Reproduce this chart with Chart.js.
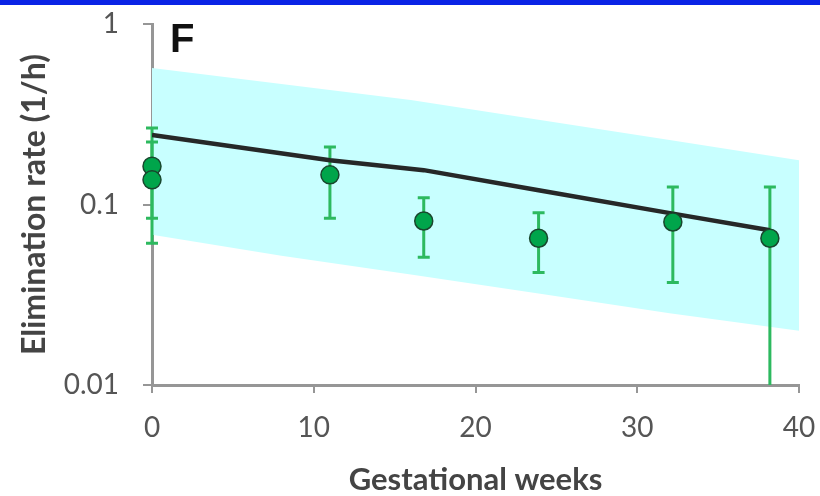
<!DOCTYPE html>
<html>
<head>
<meta charset="utf-8">
<script src="https://cdn.jsdelivr.net/npm/chart.js@4.4.1/dist/chart.umd.min.js"></script>
<style>
  html, body { margin: 0; padding: 0; background: #fff; }
  #wrap { position: relative; width: 820px; height: 496px; }
  #topbar { position: absolute; left: 0; top: 0; width: 820px; height: 5px; background: #0a23e6; }
</style>
</head>
<body>
<div id="wrap">
  <canvas id="elimChart" width="820" height="496"></canvas>
  <div id="topbar"></div>
</div>
<script>
// Observed elimination rate (1/h) with error bars
const obsWeeks = [0, 0, 11, 16.8, 23.9, 32.2, 38.2];
const obsRate = [0.163, 0.137, 0.146, 0.081, 0.065, 0.080, 0.065];
const obsLow = [0.084, 0.061, 0.084, 0.051, 0.042, 0.037, 0.01];
const obsHigh = [0.265, 0.222, 0.208, 0.109, 0.090, 0.125, 0.125];

// Model prediction (black line)
const modelWeeks = [0, 11, 16.8, 23.9, 32.2, 38.2];
const modelRate = [0.243, 0.176, 0.155, 0.120, 0.089, 0.072];

// Prediction interval (cyan band)
const bandWeeks = [0, 8, 16, 24, 32, 40];
const bandUpper = [0.57, 0.465, 0.379, 0.294, 0.228, 0.176];
const bandLower = [0.068, 0.052, 0.041, 0.032, 0.025, 0.020];

// Axis ticks
const xTicks = [0, 10, 20, 30, 40];
const yTicks = [0.01, 0.1, 1];
const yTickLabels = ['0.01', '0.1', '1'];

const toXY = (xs, ys) => xs.map((x, i) => ({ x: x, y: ys[i] }));

// error bars drawn through the chart scales
const errorBars = {
    id: 'errorBars',
    beforeDatasetsDraw(chart) {
        const ctx = chart.ctx;
        const xs = chart.scales.x, ys = chart.scales.y;
        ctx.save();
        ctx.strokeStyle = 'rgb(45,185,95)';
        ctx.lineWidth = 3;
        obsWeeks.forEach((w, i) => {
            const px = xs.getPixelForValue(w);
            const top = ys.getPixelForValue(obsHigh[i]);
            const bot = ys.getPixelForValue(obsLow[i]);
            ctx.beginPath();
            ctx.moveTo(px, top);
            ctx.lineTo(px, bot);
            ctx.moveTo(px - 6, top);
            ctx.lineTo(px + 6, top);
            if (obsLow[i] > 0.01) {
                ctx.moveTo(px - 6, bot);
                ctx.lineTo(px + 6, bot);
            }
            ctx.stroke();
        });
        ctx.restore();
    }
};

// panel letter
const panelLabel = {
    id: 'panelLabel',
    afterDraw(chart) {
        const ctx = chart.ctx;
        ctx.save();
        ctx.fillStyle = '#111';
        ctx.font = 'bold 40px "Liberation Sans", Arial, sans-serif';
        ctx.textBaseline = 'alphabetic';
        ctx.fillText('F', 170, 52);
        ctx.restore();
    }
};

const axisGrey = 'rgb(150,150,150)';
const tickFont = { family: 'Lato', size: 28 };

new Chart(document.getElementById('elimChart').getContext('2d'), {
    type: 'line',
    data: {
        datasets: [
            {
                label: 'Observed',
                data: toXY(obsWeeks, obsRate),
                showLine: false,
                pointRadius: 9,
                pointBackgroundColor: 'rgb(0,165,75)',
                pointBorderColor: 'rgb(25,70,45)',
                pointBorderWidth: 1.5,
                clip: false,
                order: 0
            },
            {
                label: 'Model',
                data: toXY(modelWeeks, modelRate),
                borderColor: 'rgb(38,40,40)',
                borderWidth: 4.5,
                pointRadius: 0,
                tension: 0,
                fill: false,
                order: 1
            },
            {
                label: 'Upper',
                data: toXY(bandWeeks, bandUpper),
                borderWidth: 0,
                pointRadius: 0,
                backgroundColor: 'rgb(200,255,255)',
                fill: '+1',
                order: 2
            },
            {
                label: 'Lower',
                data: toXY(bandWeeks, bandLower),
                borderWidth: 0,
                pointRadius: 0,
                fill: false,
                order: 3
            }
        ]
    },
    options: {
        responsive: false,
        animation: false,
        layout: { padding: { top: 24, right: 21, left: 0, bottom: 0 } },
        plugins: {
            legend: { display: false },
            tooltip: { enabled: false },
            filler: { drawTime: 'beforeDatasetsDraw' }
        },
        scales: {
            x: {
                type: 'linear',
                min: 0,
                max: 40,
                afterFit: (s) => { s.height = 111; s.paddingLeft = 0; s.paddingRight = 0; },
                afterBuildTicks: (s) => { s.ticks = xTicks.map(v => ({ value: v })); },
                ticks: { font: tickFont, color: '#555', padding: 18 },
                grid: { drawOnChartArea: false, drawTicks: true, tickLength: 8, color: axisGrey, lineWidth: 2 },
                border: { display: true, color: axisGrey, width: 3 },
                title: {
                    display: true,
                    text: 'Gestational weeks',
                    font: { family: 'Lato', size: 31, weight: 'bold', lineHeight: 1 },
                    color: '#444',
                    padding: { top: 0, bottom: 1 }
                }
            },
            y: {
                type: 'logarithmic',
                min: 0.01,
                max: 1,
                afterFit: (s) => { s.width = 152; s.paddingTop = 0; s.paddingBottom = 0; },
                afterBuildTicks: (s) => { s.ticks = yTicks.map(v => ({ value: v })); },
                ticks: {
                    font: tickFont,
                    color: '#555',
                    padding: 24,
                    callback: (v) => yTickLabels[yTicks.indexOf(v)]
                },
                grid: { drawOnChartArea: false, drawTicks: true, tickLength: 9, color: axisGrey, lineWidth: 2 },
                border: { display: true, color: axisGrey, width: 3 },
                title: {
                    display: true,
                    text: 'Elimination rate (1/h)',
                    font: { family: 'Lato', size: 32, weight: 'bold', lineHeight: 1 },
                    color: '#444',
                    padding: { top: 19, bottom: 0 }
                }
            }
        }
    },
    plugins: [errorBars, panelLabel]
});
</script>
</body>
</html>
